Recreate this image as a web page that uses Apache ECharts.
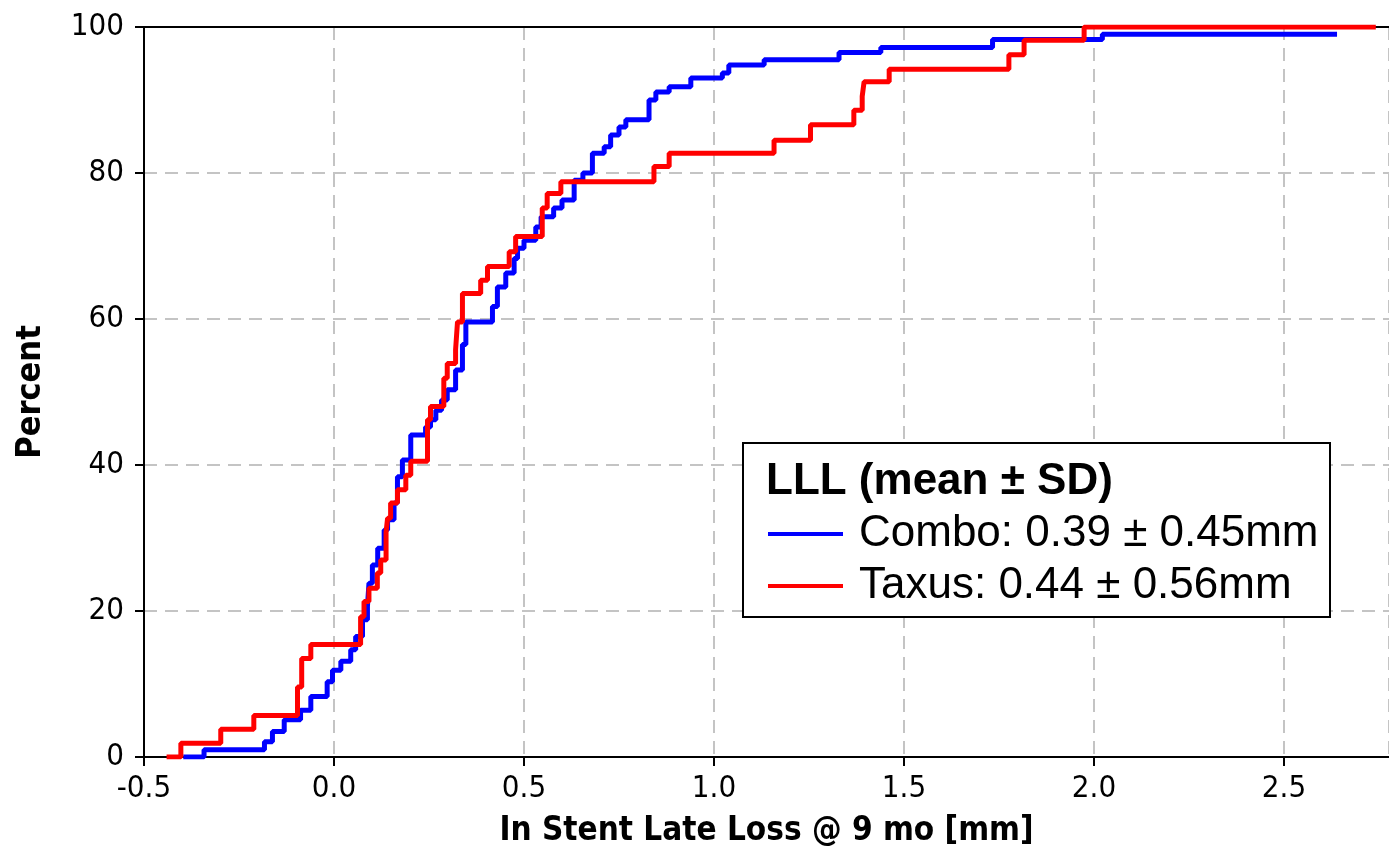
<!DOCTYPE html>
<html>
<head>
<meta charset="utf-8">
<title>In Stent Late Loss @ 9 mo</title>
<script src="https://cdn.jsdelivr.net/npm/echarts@6/dist/echarts.min.js"></script>
<style>
  html, body { margin: 0; padding: 0; background: #ffffff; }
  #chart { width: 1389px; height: 855px; }
</style>
</head>
<body>
<div id="chart"></div>
<script>
// Cumulative distribution of in-stent late loss (mm) per arm.
// Each pair (loss, percent) is the level the curve reaches at that loss.
const comboLoss = [-0.39, -0.342, -0.183, -0.162, -0.131, -0.088, -0.061, -0.018, -0.004, 0.018,
  0.044, 0.057, 0.075, 0.088, 0.092, 0.101, 0.115, 0.132, 0.141, 0.158, 0.167, 0.180, 0.202,
  0.241, 0.254, 0.268, 0.283, 0.298, 0.320, 0.338, 0.347, 0.417, 0.430, 0.452, 0.474, 0.483,
  0.500, 0.531, 0.545, 0.578, 0.600, 0.632, 0.655, 0.680, 0.711, 0.728, 0.750, 0.768, 0.829,
  0.847, 0.882, 0.939, 1.022, 1.039, 1.132, 1.329, 1.439, 1.733, 2.022, 2.633];
const comboPct = [0, 1.0, 2.1, 3.5, 5.1, 6.4, 8.3, 10.3, 11.9, 13.1,
  14.7, 16.5, 18.8, 20.6, 23.8, 26.3, 28.6, 31.1, 32.5, 34.8, 38.4, 40.7, 44.1,
  45.2, 46.2, 47.5, 48.9, 50.3, 53.0, 56.5, 59.6, 61.7, 64.4, 66.3, 68.3, 69.7,
  70.8, 72.6, 74.0, 75.2, 76.3, 79.0, 80.0, 82.7, 83.6, 85.2, 86.3, 87.3, 90.0,
  91.1, 91.8, 93.0, 93.7, 94.8, 95.5, 96.5, 97.2, 98.3, 99.0, 99.0];

const taxusLoss = [-0.434, -0.403, -0.298, -0.211, -0.096, -0.085, -0.061, 0.070, 0.079, 0.092,
  0.114, 0.123, 0.137, 0.141, 0.149, 0.167, 0.189, 0.202, 0.246, 0.254, 0.289, 0.298, 0.320,
  0.325, 0.338, 0.386, 0.404, 0.461, 0.478, 0.548, 0.561, 0.597, 0.842, 0.882, 1.158, 1.254,
  1.368, 1.390, 1.395, 1.461, 1.776, 1.816, 1.974, 2.735];
const taxusPct = [0, 1.9, 3.8, 5.7, 9.6, 13.5, 15.4, 19.2, 21.3, 23.1,
  25.2, 27.0, 30.8, 32.7, 34.8, 36.6, 38.6, 40.5, 46.2, 48.0, 51.9, 53.9, 55.8,
  59.6, 63.5, 65.3, 67.2, 69.2, 71.3, 75.2, 77.2, 78.8, 80.9, 82.7, 84.5, 86.6,
  88.6, 90.5, 92.5, 94.2, 96.2, 98.2, 100, 100];

const seriesNames = ['Combo: 0.39 \u00b1 0.45mm', 'Taxus: 0.44 \u00b1 0.56mm'];
const legendTitle = 'LLL (mean \u00b1 SD)';
const xTitle = 'In Stent Late Loss @ 9 mo [mm]';
const yTitle = 'Percent';

const pairs = (xs, ys) => xs.map((x, i) => [x, ys[i]]);

const tickFont = '"DejaVu Sans Condensed", "DejaVu Sans", sans-serif';
const legendFont = '"Liberation Sans", Arial, sans-serif';

const chart = echarts.init(document.getElementById('chart'), null, { renderer: 'canvas' });

const X_MIN = -0.5, X_MAX = -0.5 + 1245 / 380;

chart.setOption({
  animation: false,
  backgroundColor: '#ffffff',
  grid: { left: 144, right: 0, top: 27, bottom: 98, containLabel: false },
  xAxis: [{
    type: 'value', min: X_MIN, max: X_MAX, interval: 0.5,
    name: xTitle, nameLocation: 'middle', nameGap: 58,
    nameTextStyle: { fontFamily: tickFont, fontWeight: 'bold', fontSize: 33, color: '#000' },
    axisLine: { show: true, onZero: false, lineStyle: { color: '#000', width: 2 } },
    axisTick: { show: true, inside: false, length: 9, lineStyle: { color: '#000', width: 2 } },
    axisLabel: {
      margin: 16, fontFamily: tickFont, fontSize: 31, color: '#000', showMaxLabel: false,
      formatter: v => (Math.abs(v * 2 - Math.round(v * 2)) < 1e-6 ? v.toFixed(1) : '')
    },
    splitLine: { show: true, lineStyle: { color: '#c4c4c4', width: 2, type: [13, 8] } }
  }, {
    type: 'value', position: 'top', min: X_MIN, max: X_MAX,
    axisLine: { show: true, onZero: false, lineStyle: { color: '#000', width: 2 } },
    axisTick: { show: false }, axisLabel: { show: false }, splitLine: { show: false }
  }],
  yAxis: {
    type: 'value', min: 0, max: 100, interval: 20,
    name: yTitle, nameLocation: 'middle', nameGap: 96, nameRotate: 90,
    nameTextStyle: { fontFamily: tickFont, fontWeight: 'bold', fontSize: 34, color: '#000' },
    axisLine: { show: true, onZero: false, lineStyle: { color: '#000', width: 2 } },
    axisTick: { show: true, inside: false, length: 9, lineStyle: { color: '#000', width: 2 } },
    axisLabel: { margin: 20, fontFamily: tickFont, fontSize: 31, color: '#000' },
    splitLine: { show: true, lineStyle: { color: '#c4c4c4', width: 2, type: [13, 8] } }
  },
  legend: {
    z: 20,
    orient: 'vertical', left: 763, top: 505, itemGap: 4,
    icon: 'rect', itemWidth: 75, itemHeight: 4,
    textStyle: { fontFamily: legendFont, fontSize: 44, color: '#000', lineHeight: 48, padding: [0, 0, 0, 11] },
    data: seriesNames
  },
  graphic: [{
    type: 'rect', z: 10,
    shape: { x: 743, y: 443, width: 587, height: 174 },
    style: { fill: '#ffffff', stroke: '#000', lineWidth: 2 }
  }, {
    type: 'text', z: 20, x: 766, y: 482,
    style: { text: legendTitle, font: 'bold 44px "Liberation Sans", Arial, sans-serif',
      fill: '#000', verticalAlign: 'middle', align: 'left' }
  }],
  series: [{
    name: seriesNames[0], type: 'line', step: 'end', showSymbol: false, symbol: 'none',
    data: pairs(comboLoss, comboPct), color: '#0000ff',
    lineStyle: { color: '#0000ff', width: 5, cap: 'square' }, z: 3
  }, {
    name: seriesNames[1], type: 'line', step: 'end', showSymbol: false, symbol: 'none',
    data: pairs(taxusLoss, taxusPct), color: '#ff0000',
    lineStyle: { color: '#ff0000', width: 5, cap: 'square' }, z: 4
  }]
});
</script>
</body>
</html>
